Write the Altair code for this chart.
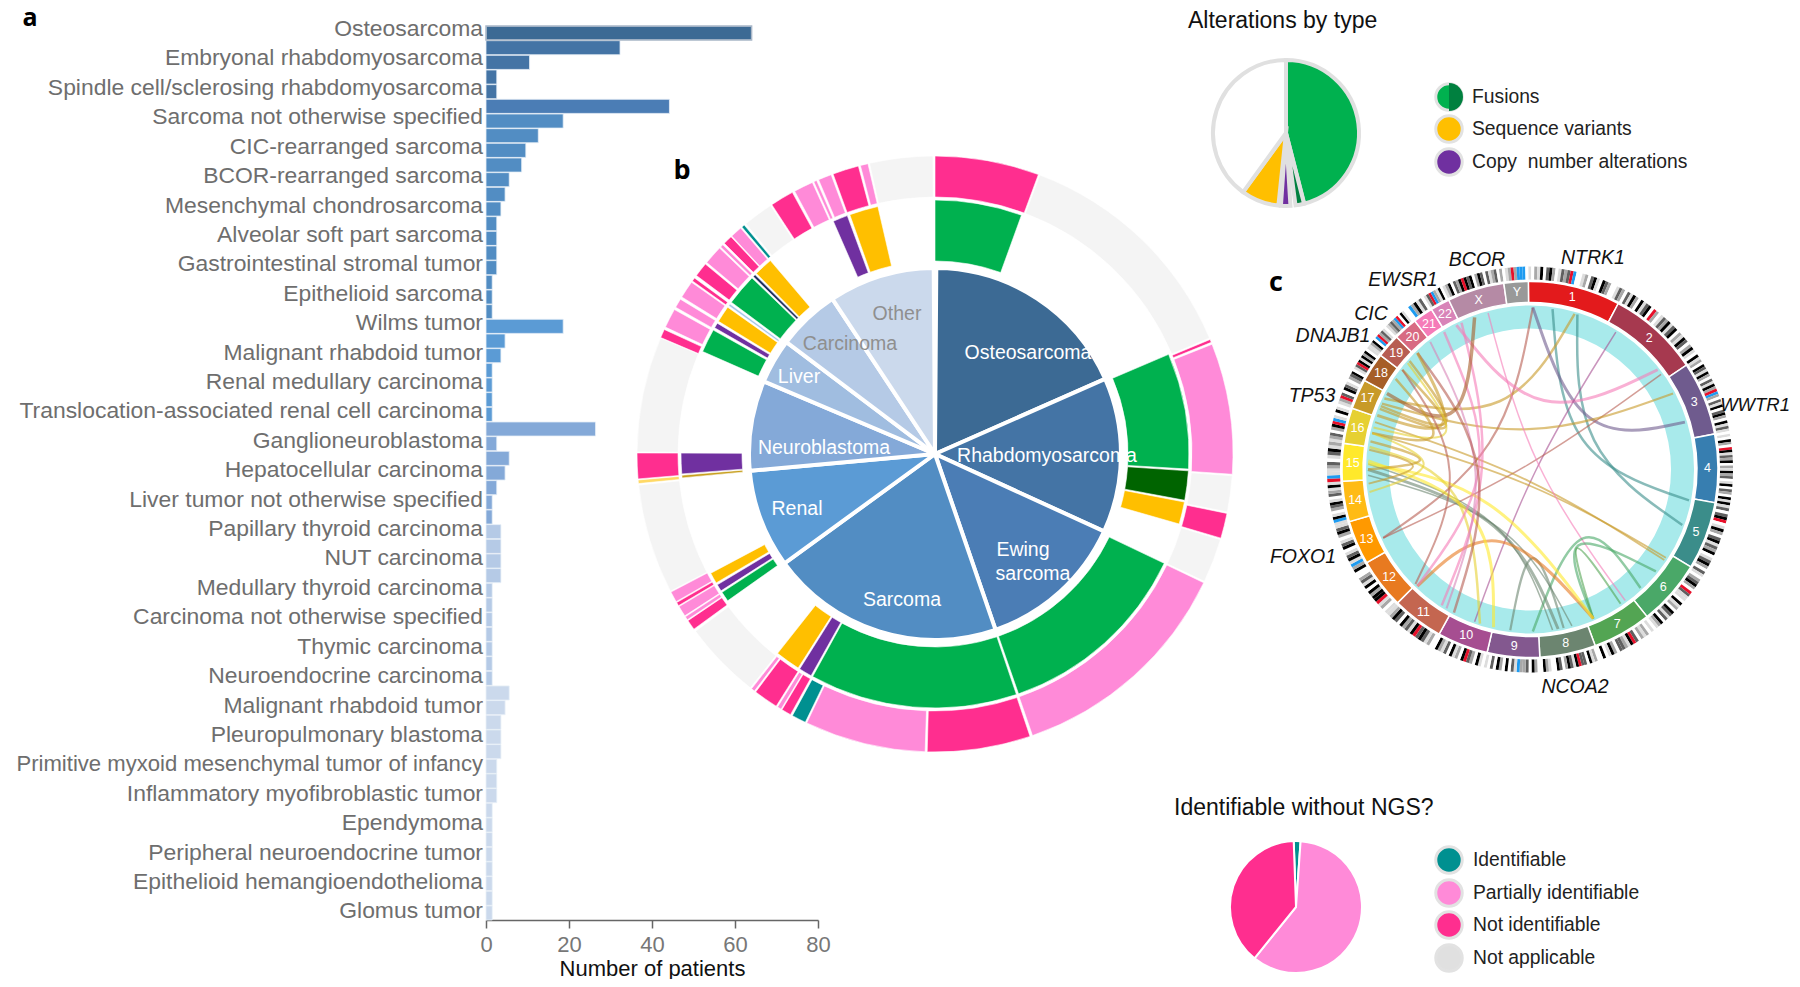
import math
import altair as alt
import pandas as pd

FONT = "Liberation Sans"
M = 8  # page margin

# ---------- panel a ----------
BAR_VALUES = [64, 32.3, 10.5, 2.6, 2.6, 44.2, 18.6, 12.6, 9.6, 8.6, 5.6, 4.6, 3.6, 2.6, 2.6, 2.6, 2.6, 1.5, 1.5, 1.5,
              18.6, 4.6, 3.6, 1.5, 1.5, 1.5, 1.5, 26.4, 2.6, 5.6, 4.6, 2.6, 1.5, 1.5, 3.6, 3.6, 3.6, 3.6,
              1.5, 1.5, 1.5, 1.5, 1.5, 1.5, 1.5,
              5.6, 4.6, 3.6, 3.6, 3.6, 2.6, 2.6, 2.6, 1.5, 1.5, 1.5, 1.5, 1.5, 1.5, 1.5, 1.5]
BAR_GROUP_RUNS = [("Osteosarcoma", 1), ("Rhabdomyosarcoma", 4), ("Ewing", 1), ("Sarcoma", 14),
                  ("Renal", 7), ("Neuroblastoma", 7), ("Carcinoma", 11), ("Other", 16)]
BAR_LABELS = ["Osteosarcoma", "Embryonal rhabdomyosarcoma", "Spindle cell/sclerosing rhabdomyosarcoma",
              "Sarcoma not otherwise specified", "CIC-rearranged sarcoma", "BCOR-rearranged sarcoma",
              "Mesenchymal chondrosarcoma", "Alveolar soft part sarcoma", "Gastrointestinal stromal tumor",
              "Epithelioid sarcoma", "Wilms tumor", "Malignant rhabdoid tumor", "Renal medullary carcinoma",
              "Translocation-associated renal cell carcinoma", "Ganglioneuroblastoma", "Hepatocellular carcinoma",
              "Liver tumor not otherwise specified", "Papillary thyroid carcinoma", "NUT carcinoma",
              "Medullary thyroid carcinoma", "Carcinoma not otherwise specified", "Thymic carcinoma",
              "Neuroendocrine carcinoma", "Malignant rhabdoid tumor", "Pleuropulmonary blastoma",
              "Primitive myxoid mesenchymal tumor of infancy", "Inflammatory myofibroblastic tumor",
              "Ependymoma", "Peripheral neuroendocrine tumor", "Epithelioid hemangioendothelioma", "Glomus tumor"]

# ---------- panel b ----------
PIE_NAMES = ["Osteosarcoma", "Rhabdomyosarcoma", "Ewing", "Sarcoma", "Renal", "Neuroblastoma", "Liver", "Carcinoma", "Other"]
PIE_EDGES = [0.4, 66.2, 114.6, 161, 234, 264.8, 293, 307, 326.5, 359.6]
PIE_COLORS = ["#3c6a94", "#4474a5", "#4b7db5", "#528dc3", "#5b9bd5", "#84a9d8", "#a0bde0", "#b5cae6", "#cbd9ec"]

RING2 = [("fus", 0, 19.9), ("fus", 66.9, 93.4), ("dkf", 93.8, 100.5), ("seq", 100.9, 106),
         ("fus", 115.5, 160.8), ("fus", 161.3, 208.8), ("cna", 209.2, 212.2), ("seq", 212.6, 218.3),
         ("fus", 234.7, 237), ("cna", 237.4, 239), ("seq", 239.5, 242), ("dks", 264.6, 265.2),
         ("cna", 265.5, 270.2), ("fus", 293.8, 299.2), ("cna", 299.8, 301), ("seq", 301.5, 305.3),
         ("ltb", 305.7, 306.2), ("fus", 306.7, 313.9), ("nav", 314.3, 314.9), ("seq", 315.3, 319.6),
         ("cna", 336.4, 339.8), ("seq", 340.4, 347)]
RING3 = [("hot", 0, 20.3), ("gry", 20.6, 67.1), ("hot", 67.4, 68), ("lgt", 68.4, 93.9), ("gry", 94.2, 101.2),
         ("hot", 101.5, 106.4), ("gry", 106.7, 115.3), ("lgt", 115.6, 160.9), ("hot", 161.4, 181.5),
         ("lgt", 181.9, 205.5), ("tea", 205.8, 208.6), ("hot", 209, 210.9), ("lgt", 211.1, 211.9),
         ("hot", 212.2, 217), ("lgt", 217.3, 218), ("gry", 218.3, 233.5), ("hot", 234, 236),
         ("lgt", 236.2, 236.9), ("lgt", 237.1, 239.2), ("hot", 239.4, 240.1), ("lgt", 240.3, 242.4),
         ("gry", 242.6, 264), ("lam", 264.3, 265), ("hot", 265.2, 270.2), ("gry", 270.4, 292.9),
         ("hot", 293, 294.7), ("lgt", 295.2, 299), ("lgt", 299.5, 301.3), ("lgt", 301.8, 305.2),
         ("hot", 305.5, 306.2), ("hot", 306.8, 309.6), ("lgt", 310, 313.7), ("lgt", 314, 314.6),
         ("hot", 315, 316.8), ("lgt", 317, 319.3), ("tea", 319.6, 320.2), ("gry", 320.6, 326.5),
         ("hot", 326.8, 331.4), ("lgt", 331.9, 335.7), ("lgt", 336, 336.6), ("lgt", 337, 339.6),
         ("hot", 340, 345.1), ("lgt", 345.5, 347), ("gry", 347.3, 359.6)]
KIND = ["fus", "dkf", "seq", "cna", "ltb", "nav", "dks", "hot", "lgt", "tea", "gry", "lam", "non", "fd2", "nap"]
KIND_COL = ["#00b14f", "#006400", "#ffbf00", "#7030a0", "#a8c8e8", "#203060", "#c8a020",
            "#ff2e8f", "#ff8ad8", "#009090", "#f4f4f4", "#ffd966", "#ffffff", "#00803f", "#e0e0e0"]

TOP_PIE = [("fus", 0, 165.5), ("fd2", 165.7, 172.5), ("cna", 176.5, 184), ("seq", 186, 216), ("non", 216, 360)]
BOT_PIE = [("tea", -2, 4), ("lgt", 4, 219), ("hot", 219, 358)]

# ---------- panel c ----------
CHR = [str(i) for i in range(1, 23)] + ["X", "Y"]
CHR_EDGES = [-0.5, 28, 56.3, 79.1, 100.2, 121.2, 141.5, 159.7, 177, 193.2, 208.9, 224.8, 240.3, 253.9, 266.4,
             278, 289, 298.3, 307.4, 314.8, 322.2, 328.4, 334.4, 352, 359.5]
CHR_COL = ["#e31a1c", "#a6394f", "#6f5b8e", "#377eb0", "#3b8d8a", "#4aa868", "#53a553", "#6c8570", "#83588f",
           "#a64e91", "#c46650", "#e87a20", "#ff9900", "#ffbb15", "#ffe92b", "#e6d032", "#c89a28", "#a65e28",
           "#b75d52", "#d86a82", "#f57bb8", "#d884b8", "#b58aa5", "#999999"]
BANDS = ["10214034201323RB00120341043200132", "03142041340R20132413402143024104", "1204314203142RB20314034204131",
         "010420R413240214230140320414", "13034R014203413240134203", "1023420R3110412043130421",
         "01021203R412330241040", "0214033R41342034001240", "0240322B13040240301", "014023R40214031240",
         "021343R4132403421", "1021R442404132004", "2B1431043102431", "1B4102341032141", "RB1123013412",
         "123024RB10410", "12R30431023", "4013R4142401", "1240BR2310", "1232BR0410", "0B24130", "13RB2140",
         "1240324R43402430312302", "012R2BBB0"]
BAND_CODE = ["0", "1", "2", "3", "4", "R", "B"]
BAND_COL = ["#ffffff", "#dddddd", "#a8a8a8", "#606060", "#000000", "#e8102a", "#1e9bf0"]

# angle a, angle b, chromosome colour, width, control angle, control radius
CHORDS = [(1, 245, "19", 2.2, 303, 30), (8, 101, "5", 2.5, 70, 36), (17, 110, "5", 2.5, 68, 50),
          (16, 296, "17", 2.5, 336, 50), (1, 73, "3", 3, 63, 56), (52, 333, "21", 3, 10, 43),
          (32, 200, "10", 1.5, 0, 0), (54, 245, "19", 1.5, 0, 0), (62, 294, "17", 2.2, 358, 25),
          (124, 287, "17", 1.8, 150, 8), (123, 283, "17", 1.8, 150, 14), (144, 345, "21", 1.5, 0, 0),
          (137, 179, "6", 2.5, 123, 61), (129, 157, "6", 2.5, 154, 57), (146, 157, "7", 2, 146, 57),
          (187, 168, "8", 2.2, 179, 53), (170, 270, "8", 3, 203, 50), (165, 268, "8", 1.5, 200, 50),
          (172, 272, "8", 1.5, 205, 48), (224, 157, "12", 3, 218, 53), (157, 272, "15", 3, 245, 40),
          (193, 273, "15", 3, 227, 50), (198, 278, "16", 2.5, 263, 60), (224, 328, "21", 2.5, 270, 27),
          (213, 335, "21", 2.5, 270, 33), (211, 322, "22", 2, 268, 36), (208, 316, "19", 2.5, 276, 31),
          (298, 340, "18", 3.5, 295, 72), (293, 312, "17", 2.5, 295, 65), (292, 308, "17", 2.5, 293, 62),
          (289.5, 316, "17", 3, 292, 70), (285, 311, "16", 2, 288, 60), (283, 304, "17", 2.5, 285, 75),
          (280, 270, "17", 2.5, 275, 85), (277, 265, "17", 2, 272, 95), (283, 262, "16", 2, 273, 80),
          (308, 225, "19", 2, 270, 60)]

# ---------- text ----------
PIE_TEXT = ["Osteosarcoma", "Rhabdomyosarcoma", "Ewing", "sarcoma", "Sarcoma", "Renal", "Neuroblastoma", "Liver"]
PIE_TEXT_X = [1028, 1047, 1023, 1033, 902, 797, 824, 799]
PIE_TEXT_Y = [353, 456, 550, 574, 600, 509, 448, 377]
PIE_TEXT2 = ["Carcinoma", "Other"]
PIE_TEXT2_X = [850, 897]
PIE_TEXT2_Y = [344, 314]
GENES = ["BCOR", "EWSR1", "CIC", "DNAJB1", "TP53", "NTRK1", "FOXO1", "NCOA2"]
GENE_X = [1477, 1403, 1371, 1333, 1312, 1593, 1303, 1575]
GENE_Y = [260, 280, 314, 336, 396, 258, 557, 687]


def txt(labels, xs, ys, size, color, align="center", font=FONT, weight="normal", style="normal"):
    d = pd.DataFrame({"t": labels, "px": [v - M for v in xs], "py": [v - M for v in ys]})
    return alt.Chart(d).mark_text(fontSize=size, color=color, align=align, baseline="middle", font=font,
                                  fontWeight=weight, fontStyle=style).encode(
        x=alt.X("px:Q", scale=None, axis=None), y=alt.Y("py:Q", scale=None, axis=None), text="t:N")


TH = alt.Scale(domain=[0, 360], range=[0, 2 * math.pi])


def arcs(rows, inner, outer, cx, cy, domain, colors, stroke="#ffffff", sw=1.0):
    d = pd.DataFrame(rows, columns=["k", "a", "b"])
    return alt.Chart(d).mark_arc(innerRadius=inner, outerRadius=outer, stroke=stroke, strokeWidth=sw).encode(
        theta=alt.Theta("a:Q", scale=TH, stack=None), theta2="b:Q",
        color=alt.Color("k:N", scale=alt.Scale(domain=domain, range=colors), legend=None),
        x=alt.value(cx - M), y=alt.value(cy - M))


layers = []

# panel a
rows = list(range(len(BAR_VALUES)))
groups = [g for g, n in BAR_GROUP_RUNS for _ in range(n)]
bars_df = pd.DataFrame({"row": rows, "v": BAR_VALUES, "g": groups})
YS = alt.Scale(type="band", domain=rows, range=[26 - M, 920 - M], paddingInner=0.04, paddingOuter=0)
YL = alt.Scale(type="band", domain=rows, range=[26 - M, 922.5 - M], paddingInner=0.04, paddingOuter=0)
XS = alt.Scale(domain=[0, 80], range=[486 - M, 818 - M])
layers.append(alt.Chart(bars_df).mark_bar(stroke="#e9f0f8", strokeWidth=0.8).encode(
    x=alt.X("v:Q", scale=XS, axis=alt.Axis(values=[0, 20, 40, 60, 80], title="Number of patients", grid=False,
                                           offset=-59, domainColor="#666666", tickColor="#666666", domainWidth=1.5,
                                           tickWidth=1.5, tickSize=8, labelFontSize=22, labelColor="#777777",
                                           labelFont=FONT, labelPadding=6, labelFlush=False, titleFont=FONT,
                                           titleFontSize=22, titleFontWeight="normal", titleColor="#111111",
                                           titlePadding=3)),
    y=alt.Y("row:O", scale=YS, axis=None),
    color=alt.Color("g:N", scale=alt.Scale(domain=PIE_NAMES, range=PIE_COLORS), legend=None)))
layers.append(alt.Chart(bars_df[bars_df.row == 0]).mark_bar(filled=False, stroke="#aab8c8", strokeWidth=1.5).encode(
    x=alt.X("v:Q", scale=XS, axis=None), y=alt.Y("row:O", scale=YS, axis=None)))
lab_df = pd.DataFrame({"row": rows[::2], "t": BAR_LABELS})
is_wide = lab_df.t.str.startswith("Primitive")
for part, size in [(lab_df[~is_wide], 22.9), (lab_df[is_wide], 22.1)]:
    layers.append(alt.Chart(part).mark_text(align="right", baseline="middle", dy=-4, fontSize=size, font=FONT,
                                            color="#6e6e6e").encode(
        x=alt.value(483 - M), y=alt.Y("row:O", scale=YL, axis=None), text="t:N"))

# panel b
CX, CY = 935, 454
pie_rows = [(n, PIE_EDGES[i], PIE_EDGES[i + 1]) for i, n in enumerate(PIE_NAMES)]
layers.append(arcs(pie_rows, 0, 186, CX, CY, PIE_NAMES, PIE_COLORS, sw=4))
layers.append(arcs(RING2, 193, 254, CX, CY, KIND, KIND_COL, sw=0.6))
layers.append(arcs(RING3, 257, 298, CX, CY, KIND, KIND_COL, sw=0.6))
layers.append(txt(PIE_TEXT, PIE_TEXT_X, PIE_TEXT_Y, 19.5, "#ffffff"))
layers.append(txt(PIE_TEXT2, PIE_TEXT2_X, PIE_TEXT2_Y, 19.5, "#8f8f8f"))

# panel c
KX, KY = 1530, 469.5
layers.append(arcs([("c", 0, 360)], 141, 164, KX, KY, ["c"], ["#a8eaeb"], stroke="#a8eaeb", sw=0))
layers.append(arcs([(c, CHR_EDGES[i], CHR_EDGES[i + 1]) for i, c in enumerate(CHR)], 167, 188, KX, KY, CHR, CHR_COL, sw=1.5))
band_rows = []
for i, s in enumerate(BANDS):
    w = (CHR_EDGES[i + 1] - CHR_EDGES[i]) / len(s)
    for j, ch in enumerate(s):
        band_rows.append((ch, CHR_EDGES[i] + j * w, CHR_EDGES[i] + (j + 1) * w))
layers.append(arcs(band_rows, 190, 203, KX, KY, BAND_CODE, BAND_COL, stroke="#ffffff", sw=0))


def polar(angle, r):
    t = math.radians(angle)
    return KX - M + r * math.sin(t), KY - M - r * math.cos(t)


chord_rows = []
for n, (a, b, c, w, ca, cr) in enumerate(CHORDS):
    for i, (ang, rad) in enumerate([(a, 162), (ca, cr), (b, 162)]):
        px, py = polar(ang, rad)
        chord_rows.append({"id": n, "i": i, "px": px, "py": py, "c": c, "w": w})
layers.append(alt.Chart(pd.DataFrame(chord_rows)).mark_line(interpolate="basis", opacity=0.6).encode(
    x=alt.X("px:Q", scale=None, axis=None), y=alt.Y("py:Q", scale=None, axis=None),
    detail="id:N", order="i:Q",
    color=alt.Color("c:N", scale=alt.Scale(domain=CHR, range=CHR_COL), legend=None),
    strokeWidth=alt.StrokeWidth("w:Q", scale=None)))
num_x, num_y = [], []
for i in range(len(CHR)):
    px, py = polar((CHR_EDGES[i] + CHR_EDGES[i + 1]) / 2, 177.5)
    num_x.append(px + M)
    num_y.append(py + M)
layers.append(txt(CHR, num_x, num_y, 12.5, "#ffffff"))
layers.append(txt(GENES, GENE_X, GENE_Y, 19.5, "#111111", style="italic"))
layers.append(txt(["WWTR1"], [1790], [405], 18.5, "#111111", align="right", style="italic"))

# pies and legends
layers.append(arcs(TOP_PIE, 0, 73, 1286, 133, KIND, KIND_COL, stroke="#e0e0e0", sw=4))
layers.append(arcs(BOT_PIE, 0, 66, 1296, 907, KIND, KIND_COL, stroke="#ffffff", sw=2))
layers.append(txt(["Alterations by type"], [1188], [21], 23, "#111111", align="left"))
layers.append(txt(["Identifiable without NGS?"], [1174], [808], 23, "#111111", align="left"))


def legend(names, kinds, ys, tx):
    d = pd.DataFrame({"k": kinds, "py": [v - M for v in ys]})
    dots = alt.Chart(d).mark_circle(size=700, opacity=1, stroke="#e2e2e2", strokeWidth=3).encode(
        x=alt.value(1449 - M), y=alt.Y("py:Q", scale=None, axis=None),
        color=alt.Color("k:N", scale=alt.Scale(domain=KIND, range=KIND_COL), legend=None))
    return [dots, txt(names, [tx] * len(names), ys, 19.3, "#222222", align="left")]


layers += legend(["Fusions", "Sequence variants", "Copy\u00a0 number alterations"], ["fus", "seq", "cna"], [97, 129, 162], 1472)
layers.append(arcs([("fd2", 0, 180)], 0, 14, 1449, 97, KIND, KIND_COL, stroke="#00803f", sw=0))
layers += legend(["Identifiable", "Partially identifiable", "Not identifiable", "Not applicable"],
                 ["tea", "lgt", "hot", "nap"], [860, 893, 925, 958], 1473)

# panel letters
layers.append(txt(["a"], [30], [18], 25, "#000000", font="Open Sans", weight="bold"))
layers.append(txt(["b"], [682], [171], 27, "#000000", font="Open Sans", weight="bold"))
layers.append(txt(["c"], [1276], [283], 27, "#000000", font="Open Sans", weight="bold"))

chart = alt.layer(*layers).resolve_scale(x="independent", y="independent", color="independent").properties(
    width=1784, height=971, padding=0, autosize=alt.AutoSizeParams(type="none"), background="#ffffff"
).configure_view(stroke=None)

chart.save("out.html", embed_options={"renderer": "svg", "actions": False})
